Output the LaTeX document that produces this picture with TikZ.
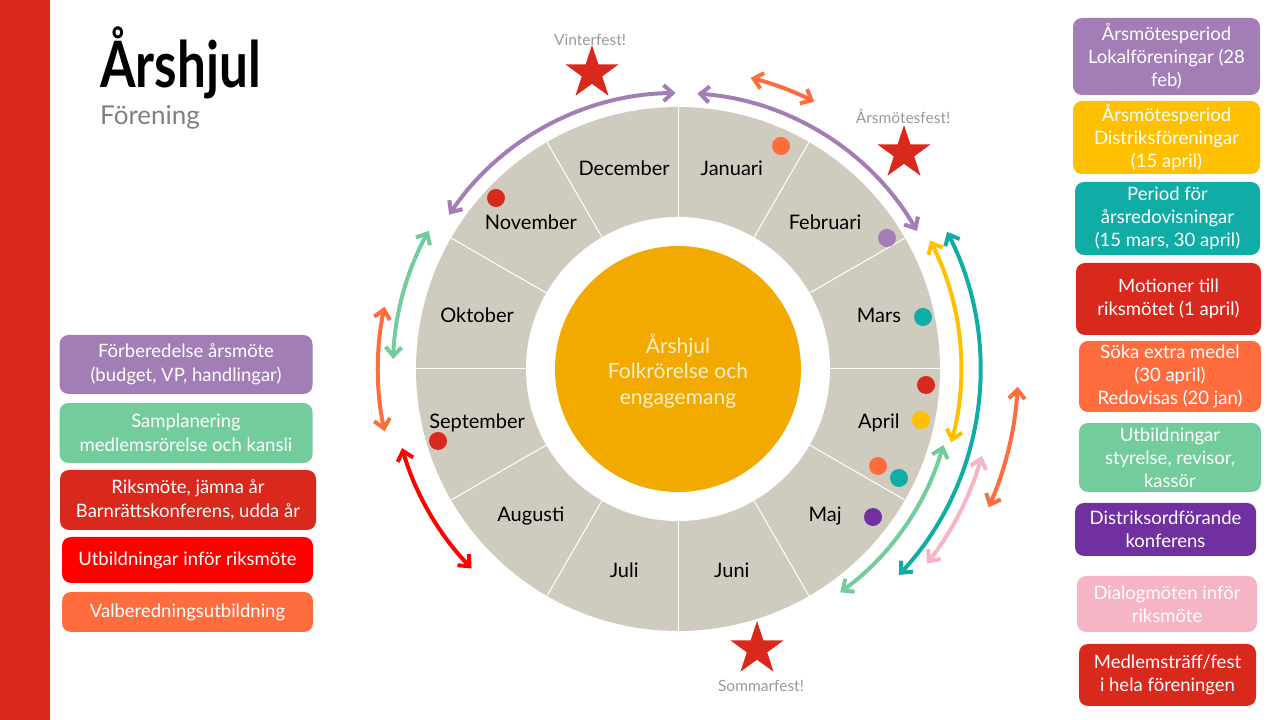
\documentclass[tikz,border=0pt]{standalone}
\usepackage{fontspec}
\setmainfont{Lato}
\newfontfamily\titlefont[FakeStretch=0.8]{Lato}
\usetikzlibrary{shapes.geometric, arrows.meta, positioning}

\definecolor{strip}{HTML}{D9291C}
\definecolor{wheel}{HTML}{D0CBBF}
\definecolor{core}{HTML}{F2A900}
\definecolor{corefg}{HTML}{FFF0C8}
\definecolor{lilac}{HTML}{A27DB6}
\definecolor{plum}{HTML}{7030A0}
\definecolor{teal}{HTML}{10ADA6}
\definecolor{amber}{HTML}{FFC000}
\definecolor{coral}{HTML}{FF6D3F}
\definecolor{mint}{HTML}{72CC9B}
\definecolor{rose}{HTML}{F5B5C4}
\definecolor{scarlet}{HTML}{FF0000}
\definecolor{subgray}{HTML}{7F7F7F}
\definecolor{festgray}{HTML}{999999}

\tikzset{
  legend/.style={rounded corners=9pt, text=white, align=center, inner sep=0pt, font=\fontsize{18.5}{23}\selectfont},
  month/.style={font=\fontsize{20}{24}\selectfont},
  dot/.style={circle, inner sep=0pt, minimum size=18pt},
  fest/.style={star, star points=5, star point ratio=2.6, fill=strip, inner sep=0pt, minimum size=56pt},
  festlabel/.style={text=festgray, font=\fontsize{15.5}{18}\selectfont},
  arr/.style={line width=4pt, {Straight Barb[length=9pt,width=16pt]}-{Straight Barb[length=9pt,width=16pt]}}
}

\begin{document}
\begin{tikzpicture}[x=1pt, y=1pt]
\useasboundingbox (0,0) rectangle (1280,720);
\fill[strip] (0,0) rectangle (50,720);

% title
\node[anchor=base west, inner sep=0pt, font=\titlefont\fontsize{64}{64}\selectfont\bfseries] (title) at (100,632) {Årshjul};
\node[anchor=base west, inner sep=0pt, text=subgray, font=\fontsize{26}{30}\selectfont] (sub) at (100,595) {Förening};

% wheel
\coordinate (c) at (678,351);
\fill[wheel] (c) circle (262);
\fill[white] (c) circle (152);
\fill[core] (c) circle (123);
\foreach \a in {0,30,...,330}
  \draw[white, line width=1pt] ([shift={(\a:152)}]c) -- ([shift={(\a:262)}]c);
\node[text=corefg, align=center, font=\fontsize{21}{25.5}\selectfont] (mid) at ([yshift=-2pt]c) {Årshjul\\Folkrörelse och\\engagemang};

\foreach \m [count=\i] in {Januari,Februari,Mars,April,Maj,Juni,Juli,Augusti,September,Oktober,November,December}
  \node[month] (m\i) at ([shift={({105-30*\i}:208)}]c) {\m};

% dots
\node[dot, fill=coral] (d1) at (781,574) {};
\node[dot, fill=strip] (d2) at (496,522) {};
\node[dot, fill=lilac] (d3) at (887,482) {};
\node[dot, fill=teal] (d4) at (923,403) {};
\node[dot, fill=strip] (d5) at (926,335) {};
\node[dot, fill=amber] (d6) at (921,300) {};
\node[dot, fill=coral] (d7) at (878,254) {};
\node[dot, fill=teal] (d8) at (899,242) {};
\node[dot, fill=plum] (d9) at (873,203) {};
\node[dot, fill=strip] (d10) at (438,279) {};

% periods
\foreach \col/\r/\a/\b in {lilac/276/90.5/146, lilac/276/86/30, coral/300/76/63,
    amber/283/27/-15, teal/302/27/-43, mint/276/-16/-54, rose/316/-16/-38,
    coral/340/-3/-24, mint/285/151/178, coral/300/168/192, scarlet/287/196/224}
  \draw[arr, \col] ([shift={(\a:\r)}]c) arc[start angle=\a, end angle=\b, radius=\r];

% parties
\node[fest] (vstar) at (592,647) {};
\node[festlabel] (vlab) at (590,680) {Vinterfest!};
\node[fest] (astar) at (904,567) {};
\node[festlabel] (alab) at (903,604) {Årsmötesfest!};
\node[fest] (sstar) at (757,71) {};
\node[festlabel] (slab) at (761,34) {Sommarfest!};

% left legend
\node[legend, fill=lilac, minimum width=253pt, minimum height=59pt, font=\fontsize{18.5}{24}\selectfont] (lprep) at (186,355.5) {Förberedelse årsmöte\\(budget, VP, handlingar)};
\node[legend, fill=mint, minimum width=253pt, minimum height=60pt, font=\fontsize{18.5}{24}\selectfont] (lsam) at (186,287) {Samplanering\\medlemsrörelse och kansli};
\node[legend, fill=strip, minimum width=256pt, minimum height=60pt, font=\fontsize{18.5}{24}\selectfont] (lriks) at (188,220) {Riksmöte, jämna år\\Barnrättskonferens, udda år};
\node[legend, fill=scarlet, minimum width=251pt, minimum height=46pt] (lutb) at (187.5,160) {Utbildningar inför riksmöte};
\node[legend, fill=coral, minimum width=251pt, minimum height=40pt] (lvalb) at (187.5,108) {Valberedningsutbildning};

% right legend
\node[legend, fill=lilac, minimum width=187pt, minimum height=77pt] (rlok) at (1166.5,663.5) {Årsmötesperiod\\Lokalföreningar (28\\feb)};
\node[legend, fill=amber, minimum width=187pt, minimum height=73pt] (rdist) at (1166.5,582.5) {Årsmötesperiod\\Distriksföreningar\\(15 april)};
\node[legend, fill=teal, minimum width=185pt, minimum height=73pt] (rred) at (1167.5,501.5) {Period för\\årsredovisningar\\(15 mars, 30 april)};
\node[legend, fill=strip, minimum width=185pt, minimum height=72pt] (rmot) at (1168.5,421) {Motioner till\\riksmötet (1 april)};
\node[legend, fill=coral, minimum width=182pt, minimum height=71pt] (rsok) at (1170,343.5) {Söka extra medel\\(30 april)\\Redovisas (20 jan)};
\node[legend, fill=mint, minimum width=182pt, minimum height=69pt] (rutb) at (1170,262.5) {Utbildningar\\styrelse, revisor,\\kassör};
\node[legend, fill=plum, minimum width=181pt, minimum height=53pt] (rord) at (1165.5,190.5) {Distriksordförande\\konferens};
\node[legend, fill=rose, minimum width=180pt, minimum height=56pt] (rdia) at (1167,116) {Dialogmöten inför\\riksmöte};
\node[legend, fill=strip, minimum width=177pt, minimum height=62pt] (rfest) at (1167.5,45) {Medlemsträff/fest\\i hela föreningen};
\end{tikzpicture}
\end{document}
